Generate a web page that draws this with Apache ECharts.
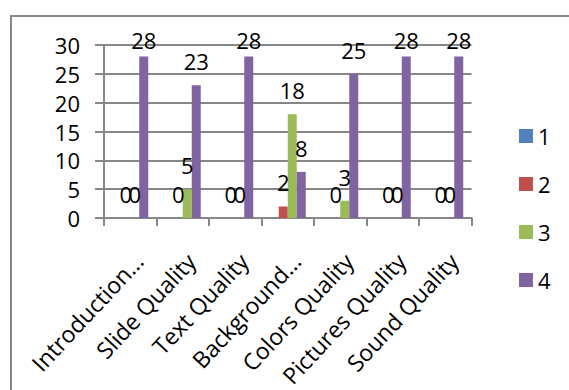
<!DOCTYPE html>
<html>
<head>
<meta charset="utf-8">
<script src="https://cdn.jsdelivr.net/npm/echarts@6/dist/echarts.min.js"></script>
<style>
  html, body { margin: 0; padding: 0; background: #fff; }
  #chart { width: 569px; height: 390px; }
</style>
</head>
<body>
<div id="chart"></div>
<script>
// Survey ratings per slide criterion
const categories = ['Introduction…', 'Slide Quality', 'Text Quality', 'Background…',
                    'Colors Quality', 'Pictures Quality', 'Sound Quality'];
const seriesNames = ['1', '2', '3', '4'];
const rating1 = [null, null, null, null, null, null, null];
const rating2 = [0, 0, 0, 2, 0, 0, 0];
const rating3 = [0, 5, 0, 18, 3, 0, 0];
const rating4 = [28, 23, 28, 8, 25, 28, 28];
const yTicks = { min: 0, max: 30, interval: 5 };

const colors = ['#4F81BD', '#C0504D', '#9BBB59', '#8064A2'];
const FONT = 'Open Sans';
const GRAY = '#868686';

// labels close to the top edge are nudged down so they stay inside the frame
function withLabels(values) {
  return values.map(v => (v !== null && v >= 27) ? { value: v, label: { offset: [0, 7] } } : v);
}

const chart = echarts.init(document.getElementById('chart'), null, { renderer: 'svg' });
chart.setOption({
  animation: false,
  backgroundColor: '#fff',
  color: colors,
  textStyle: { fontFamily: FONT, color: '#000' },
  graphic: [{
    type: 'rect',
    shape: { x: 11, y: 16, width: 640, height: 440 },
    style: { fill: 'none', stroke: GRAY, lineWidth: 2 },
    silent: true
  }],
  grid: { left: 104, right: 97.5, top: 45, bottom: 172, containLabel: false },
  legend: {
    orient: 'vertical',
    left: 514,
    top: 120,
    itemWidth: 14,
    itemHeight: 14,
    itemGap: 26,
    icon: 'rect',
    data: seriesNames,
    textStyle: { fontFamily: FONT, fontSize: 22, color: '#000' }
  },
  xAxis: {
    type: 'category',
    data: categories,
    axisLine: { lineStyle: { color: GRAY, width: 2 } },
    axisTick: { show: true, length: 8, interval: 0, lineStyle: { color: GRAY, width: 2 } },
    axisLabel: {
      interval: 0, rotate: 47, margin: 31, verticalAlign: 'top',
      fontFamily: FONT, fontSize: 23, color: '#000'
    },
    splitLine: { show: false }
  },
  yAxis: {
    type: 'value',
    min: yTicks.min,
    max: yTicks.max,
    interval: yTicks.interval,
    axisLine: { show: true, lineStyle: { color: GRAY, width: 2 } },
    axisTick: { show: true, length: 9, lineStyle: { color: GRAY, width: 2 } },
    axisLabel: { margin: 24, fontFamily: FONT, fontSize: 22, color: '#000' },
    splitLine: { show: true, lineStyle: { color: GRAY, width: 2 } }
  },
  series: [rating1, rating2, rating3, rating4].map((vals, i) => ({
    name: seriesNames[i],
    type: 'bar',
    data: withLabels(vals),
    barWidth: 9,
    barGap: '0%',
    label: {
      show: true,
      position: 'top',
      distance: 13,
      fontFamily: FONT,
      fontSize: 22,
      color: '#000'
    }
  }))
});
</script>
</body>
</html>
